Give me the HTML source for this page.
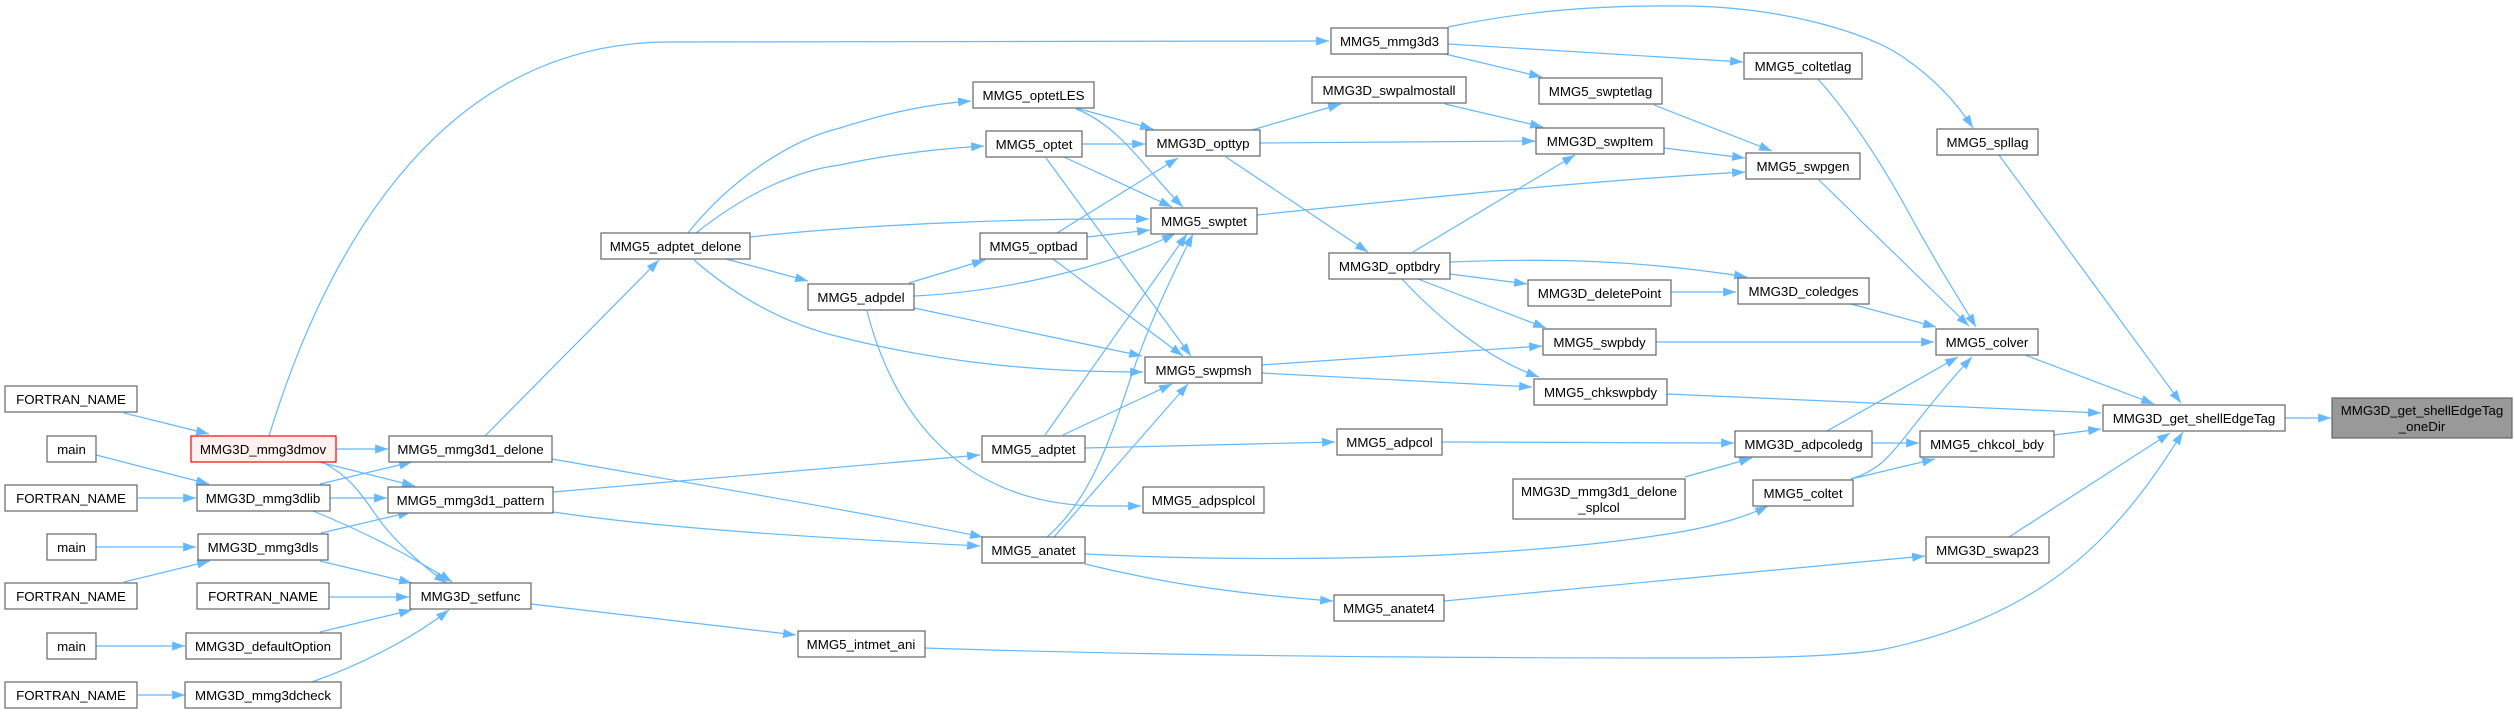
<!DOCTYPE html>
<html><head><meta charset="utf-8"><style>
html,body{margin:0;padding:0;background:#fff;}
svg{display:block;}
text{font-family:"Liberation Sans",Arial,sans-serif;font-size:13.3px;fill:#000;text-anchor:middle;}
.e{fill:none;stroke:#63b8ff;stroke-width:1.2;marker-end:url(#a);}
rect{fill:#fff;stroke:#666;stroke-width:1.2;}
</style></head><body>
<svg width="2514" height="713" viewBox="0 0 2514 713" xmlns="http://www.w3.org/2000/svg">
<defs><marker id="a" viewBox="0 0 10 7" refX="10" refY="3.5" markerWidth="13" markerHeight="9" markerUnits="userSpaceOnUse" orient="auto"><path d="M0,0 L10,3.5 L0,7 z" fill="#63b8ff"/></marker></defs>
<g>
<path class="e" d="M124,413 L209,434"/>
<path class="e" d="M96,455 L209,484"/>
<path class="e" d="M138,498 L196,498"/>
<path class="e" d="M96,547 L196,547"/>
<path class="e" d="M124,582 L210,561"/>
<path class="e" d="M329,597 L409,597"/>
<path class="e" d="M96,646 L185,646"/>
<path class="e" d="M138,695 L185,695"/>
<path class="e" d="M336,449 L388,449"/>
<path class="e" d="M319,462 L415,486"/>
<path class="e" d="M322,462 C350,476 362,495 378,518 C395,542 425,568 447,583"/>
<path class="e" d="M269,436 C320,270 430,42 670,42 L1329,41"/>
<path class="e" d="M320,484 L412,462"/>
<path class="e" d="M330,498 L387,498"/>
<path class="e" d="M313,511 C360,530 410,555 452,582"/>
<path class="e" d="M321,533 L411,512"/>
<path class="e" d="M320,561 L412,583"/>
<path class="e" d="M320,632 L412,610"/>
<path class="e" d="M312,682 C360,665 410,640 449,610"/>
<path class="e" d="M485,436 L659,260"/>
<path class="e" d="M552,459 C700,485 850,510 983,537"/>
<path class="e" d="M553,492 C700,478 840,466 980,455"/>
<path class="e" d="M553,512 C640,525 760,535 980,546"/>
<path class="e" d="M531,604 L796,635"/>
<path class="e" d="M688,233 C730,180 790,140 840,128 C890,112 930,104 971,101"/>
<path class="e" d="M696,233 C750,190 800,170 840,165 C900,152 950,148 984,146"/>
<path class="e" d="M750,237 C850,226 1000,218 1149,219"/>
<path class="e" d="M726,259 L808,281"/>
<path class="e" d="M694,260 C740,300 790,325 840,337 C950,365 1050,372 1143,372"/>
<path class="e" d="M909,283 L985,260"/>
<path class="e" d="M914,296 C1000,292 1100,270 1175,234"/>
<path class="e" d="M914,308 L1142,356"/>
<path class="e" d="M867,311 C890,400 950,505 1100,506 L1141,506"/>
<path class="e" d="M1076,108 L1153,129"/>
<path class="e" d="M1076,109 C1120,125 1150,175 1183,207"/>
<path class="e" d="M1082,144 L1145,144"/>
<path class="e" d="M1064,157 L1172,207"/>
<path class="e" d="M1046,158 L1191,356"/>
<path class="e" d="M1057,233 L1178,158"/>
<path class="e" d="M1087,237 L1150,230"/>
<path class="e" d="M1053,259 L1183,356"/>
<path class="e" d="M1045,435 L1187,234"/>
<path class="e" d="M1063,435 L1172,384"/>
<path class="e" d="M1085,448 L1335,442"/>
<path class="e" d="M1047,537 C1090,500 1110,440 1130,380 C1150,320 1175,270 1193,234"/>
<path class="e" d="M1054,537 L1188,384"/>
<path class="e" d="M1085,564 C1170,585 1250,595 1333,601"/>
<path class="e" d="M1085,554 C1250,562 1500,562 1680,532 C1720,525 1750,515 1768,506"/>
<path class="e" d="M1252,130 L1341,104"/>
<path class="e" d="M1260,143 L1535,141"/>
<path class="e" d="M1226,157 L1368,252"/>
<path class="e" d="M1257,215 C1450,195 1600,180 1745,172"/>
<path class="e" d="M1261,365 L1542,346"/>
<path class="e" d="M1261,373 L1532,387"/>
<path class="e" d="M1448,44 C1550,50 1650,56 1743,62"/>
<path class="e" d="M1445,54 L1542,77"/>
<path class="e" d="M1448,27 C1530,10 1600,5 1690,6 C1790,8 1870,35 1900,55 C1930,75 1955,100 1973,128"/>
<path class="e" d="M1445,104 L1543,127"/>
<path class="e" d="M1413,252 L1575,155"/>
<path class="e" d="M1450,274 L1527,284"/>
<path class="e" d="M1450,262 C1550,258 1640,260 1747,277"/>
<path class="e" d="M1418,279 L1546,328"/>
<path class="e" d="M1402,279 C1440,320 1490,360 1539,377"/>
<path class="e" d="M1654,105 L1772,151"/>
<path class="e" d="M1664,148 L1745,158"/>
<path class="e" d="M1671,292 L1736,292"/>
<path class="e" d="M1442,442 L1734,443"/>
<path class="e" d="M1685,477 L1752,458"/>
<path class="e" d="M1444,601 C1550,590 1700,578 1925,556"/>
<path class="e" d="M925,648 C1200,657 1500,658 1680,658 C1780,658 1840,656 1880,650 C1980,630 2050,590 2100,540 C2140,500 2165,460 2183,432"/>
<path class="e" d="M1818,79 C1850,115 1880,160 1910,215 C1940,270 1960,300 1976,327"/>
<path class="e" d="M1818,179 L1969,326"/>
<path class="e" d="M1851,304 L1936,327"/>
<path class="e" d="M1656,342 L1934,342"/>
<path class="e" d="M1667,394 L2101,413"/>
<path class="e" d="M1827,431 L1958,357"/>
<path class="e" d="M1872,443 L1919,443"/>
<path class="e" d="M1851,479 C1880,470 1890,455 1905,437 C1930,405 1955,375 1972,357"/>
<path class="e" d="M1851,479 L1935,459"/>
<path class="e" d="M1999,155 L2181,403"/>
<path class="e" d="M2025,355 L2154,404"/>
<path class="e" d="M2054,435 L2101,429"/>
<path class="e" d="M2009,537 L2170,433"/>
<path class="e" d="M2285,418 L2331,418"/>
</g>
<g>
<rect x="5" y="386" width="132" height="26"/><text x="71" y="404">FORTRAN_NAME</text>
<rect x="47" y="436" width="49" height="26"/><text x="71.5" y="454">main</text>
<rect x="5" y="485" width="132" height="26"/><text x="71" y="503">FORTRAN_NAME</text>
<rect x="47" y="534" width="49" height="26"/><text x="71.5" y="552">main</text>
<rect x="5" y="583" width="132" height="26"/><text x="71" y="601">FORTRAN_NAME</text>
<rect x="47" y="633" width="49" height="26"/><text x="71.5" y="651">main</text>
<rect x="5" y="682" width="132" height="26"/><text x="71" y="700">FORTRAN_NAME</text>
<rect x="191" y="436" width="145" height="26" style="fill:#fff0f0;stroke:#ff0000"/><text x="263" y="454">MMG3D_mmg3dmov</text>
<rect x="197" y="485" width="133" height="26"/><text x="263" y="503">MMG3D_mmg3dlib</text>
<rect x="198" y="534" width="130" height="26"/><text x="263" y="552">MMG3D_mmg3dls</text>
<rect x="197" y="583" width="132" height="26"/><text x="263" y="601">FORTRAN_NAME</text>
<rect x="186" y="633" width="155" height="26"/><text x="263" y="651">MMG3D_defaultOption</text>
<rect x="185" y="682" width="156" height="26"/><text x="263" y="700">MMG3D_mmg3dcheck</text>
<rect x="389" y="436" width="163" height="26"/><text x="470.5" y="454">MMG5_mmg3d1_delone</text>
<rect x="388" y="487" width="165" height="26"/><text x="470.5" y="505">MMG5_mmg3d1_pattern</text>
<rect x="410" y="583" width="121" height="26"/><text x="470.5" y="601">MMG3D_setfunc</text>
<rect x="601" y="233" width="149" height="26"/><text x="675.5" y="251">MMG5_adptet_delone</text>
<rect x="808" y="284" width="106" height="26"/><text x="861" y="302">MMG5_adpdel</text>
<rect x="798" y="631" width="127" height="26"/><text x="861" y="649">MMG5_intmet_ani</text>
<rect x="973" y="82" width="121" height="26"/><text x="1033.5" y="100">MMG5_optetLES</text>
<rect x="986" y="131" width="96" height="26"/><text x="1034" y="149">MMG5_optet</text>
<rect x="980" y="233" width="107" height="26"/><text x="1033.5" y="251">MMG5_optbad</text>
<rect x="982" y="436" width="103" height="26"/><text x="1033.5" y="454">MMG5_adptet</text>
<rect x="982" y="537" width="103" height="26"/><text x="1033.5" y="555">MMG5_anatet</text>
<rect x="1146" y="130" width="114" height="26"/><text x="1203" y="148">MMG3D_opttyp</text>
<rect x="1151" y="208" width="106" height="26"/><text x="1204" y="226">MMG5_swptet</text>
<rect x="1145" y="357" width="117" height="26"/><text x="1203.5" y="375">MMG5_swpmsh</text>
<rect x="1143" y="487" width="121" height="26"/><text x="1203.5" y="505">MMG5_adpsplcol</text>
<rect x="1331" y="28" width="117" height="26"/><text x="1389.5" y="46">MMG5_mmg3d3</text>
<rect x="1312" y="77" width="154" height="26"/><text x="1389" y="95">MMG3D_swpalmostall</text>
<rect x="1329" y="253" width="121" height="26"/><text x="1389.5" y="271">MMG3D_optbdry</text>
<rect x="1337" y="429" width="105" height="26"/><text x="1389.5" y="447">MMG5_adpcol</text>
<rect x="1334" y="595" width="110" height="26"/><text x="1389" y="613">MMG5_anatet4</text>
<rect x="1539" y="78" width="123" height="26"/><text x="1600.5" y="96">MMG5_swptetlag</text>
<rect x="1536" y="128" width="128" height="26"/><text x="1600" y="146">MMG3D_swpItem</text>
<rect x="1528" y="280" width="143" height="26"/><text x="1599.5" y="298">MMG3D_deletePoint</text>
<rect x="1543" y="329" width="113" height="26"/><text x="1599.5" y="347">MMG5_swpbdy</text>
<rect x="1534" y="379" width="133" height="26"/><text x="1600.5" y="397">MMG5_chkswpbdy</text>
<rect x="1513" y="479" width="172" height="40"/><text x="1599" y="496">MMG3D_mmg3d1_delone</text><text x="1599" y="512">_splcol</text>
<rect x="1744" y="53" width="118" height="26"/><text x="1803" y="71">MMG5_coltetlag</text>
<rect x="1746" y="153" width="114" height="26"/><text x="1803" y="171">MMG5_swpgen</text>
<rect x="1738" y="278" width="131" height="26"/><text x="1803.5" y="296">MMG3D_coledges</text>
<rect x="1735" y="431" width="137" height="26"/><text x="1803.5" y="449">MMG3D_adpcoledg</text>
<rect x="1753" y="480" width="100" height="26"/><text x="1803" y="498">MMG5_coltet</text>
<rect x="1937" y="129" width="101" height="26"/><text x="1987.5" y="147">MMG5_spllag</text>
<rect x="1936" y="329" width="102" height="26"/><text x="1987" y="347">MMG5_colver</text>
<rect x="1920" y="431" width="134" height="26"/><text x="1987" y="449">MMG5_chkcol_bdy</text>
<rect x="1926" y="537" width="123" height="26"/><text x="1987.5" y="555">MMG3D_swap23</text>
<rect x="2103" y="405" width="182" height="26"/><text x="2194" y="423">MMG3D_get_shellEdgeTag</text>
<rect x="2332" y="398" width="180" height="40" style="fill:#999"/><text x="2422" y="415">MMG3D_get_shellEdgeTag</text><text x="2422" y="431">_oneDir</text>
</g>
</svg>
</body></html>
